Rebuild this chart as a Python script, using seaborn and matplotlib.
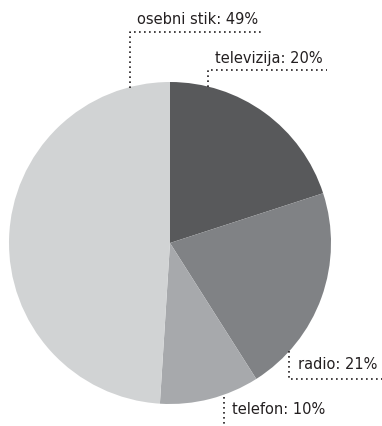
import matplotlib
matplotlib.use("Agg")
import matplotlib.pyplot as plt
import seaborn as sns

categories = ["televizija", "radio", "telefon", "osebni stik"]
values = [20, 21, 10, 49]
colors = ["#58595b", "#808285", "#a7a9ac", "#d1d3d4"]

sns.set_theme(style="white")
plt.rcParams["font.family"] = ["Liberation Sans Narrow", "DejaVu Sans"]

W, H = 382, 427
fig = plt.figure(figsize=(W / 100, H / 100), dpi=100)
ax = fig.add_axes([0, 0, 1, 1])

def Y(py):
    return H - py

ax.pie(values, colors=colors, startangle=90, counterclock=False,
       center=(170, Y(244)), radius=161, frame=True,
       wedgeprops=dict(linewidth=0))

txt_color = "#231f20"
dot = dict(color=txt_color, linestyle=(0, (1, 2)), linewidth=1.2)
fs = 10.5

# osebni stik
ax.plot([130, 130, 263], [Y(89), Y(33), Y(33)], **dot)
ax.text(137, Y(20), f"{categories[3]}: {values[3]}%", fontsize=fs, color=txt_color, va="center", ha="left")
# televizija
ax.plot([208, 208, 327], [Y(88), Y(71), Y(71)], **dot)
ax.text(215, Y(58), f"{categories[0]}: {values[0]}%", fontsize=fs, color=txt_color, va="center", ha="left")
# radio
ax.plot([289, 289, 382], [Y(352), Y(380), Y(380)], **dot)
ax.text(298, Y(365), f"{categories[1]}: {values[1]}%", fontsize=fs, color=txt_color, va="center", ha="left")
# telefon
ax.plot([224, 224], [Y(398), Y(427)], **dot)
ax.text(232, Y(410), f"{categories[2]}: {values[2]}%", fontsize=fs, color=txt_color, va="center", ha="left")

ax.set_xlim(0, W)
ax.set_ylim(0, H)
ax.set_aspect("auto")
ax.axis("off")

fig.savefig("out.png", dpi=100)
